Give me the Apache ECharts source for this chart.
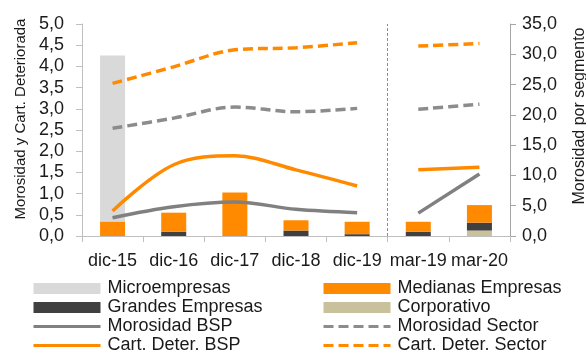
<!DOCTYPE html>
<html>
<head>
<meta charset="utf-8">
<script src="https://cdn.jsdelivr.net/npm/echarts@6/dist/echarts.min.js"></script>
<style>html,body{margin:0;padding:0;background:#fff}#c{width:586px;height:356px}</style>
</head>
<body>
<div id="c"></div>
<script>
const categories = ['dic-15','dic-16','dic-17','dic-18','dic-19','mar-19','mar-20'];
const breakIndex = 5;
const microempresas = [27.4, 0, 0, 0, 0, 0, 0];
const medianasEmpresas = [2.4, 3.15, 7.2, 1.7, 2.05, 1.65, 2.9];
const grandesEmpresas = [0, 0.7, 0, 0.9, 0.3, 0.7, 1.3];
const corporativo = [0, 0, 0, 0, 0, 0, 0.9];
const morosidadBSP = [0.43, 0.69, 0.8, 0.63, 0.55, 0.54, 1.46];
const cartDeterBSP = [0.59, 1.68, 1.89, 1.56, 1.18, 1.56, 1.62];
const morosidadSector = [2.54, 2.78, 3.04, 2.93, 3.01, 2.99, 3.11];
const cartDeterSector = [3.6, 3.99, 4.39, 4.44, 4.56, 4.48, 4.54];
const leftTicks = {min: 0, max: 5, interval: 0.5};
const rightTicks = {min: 0, max: 35, interval: 5};

const FONT = '"Liberation Sans", Arial, sans-serif';
const ORANGE = '#FF8A00';
const fmt = v => v.toFixed(1).replace('.', ',');
const pre = arr => arr.map((v, i) => i < breakIndex ? v : '-');
const post = arr => arr.map((v, i) => i >= breakIndex ? v : '-');

function bar(name, data, color) {
  return {name, type: 'bar', stack: 'seg', yAxisIndex: 1, data, barWidth: 25,
    itemStyle: {color}, emphasis: {disabled: true}, z: 1};
}
function lines(name, data, color, dashed) {
  const ls = {color, width: 3.5, type: dashed ? [10, 5] : 'solid', cap: 'butt'};
  return [pre(data), post(data)].map(d => ({
    name, type: 'line', yAxisIndex: 0, data: d, smooth: 0.35, showSymbol: false,
    symbol: 'none', connectNulls: false, lineStyle: ls, itemStyle: {color}, z: 3,
    emphasis: {disabled: true}
  }));
}
const lineLegend = name => ({name, itemStyle: {opacity: 0}});

const chart = echarts.init(document.getElementById('c'), null, {renderer: 'canvas'});
const legendText = {fontFamily: FONT, fontSize: 18, color: '#1a1a1a', lineHeight: 19,
  padding: [0, 0, 0, 2]};
const legendBase = {orient: 'vertical', top: 279, height: 80, itemWidth: 67, itemHeight: 11,
  itemGap: 0, textStyle: legendText, selectedMode: false, padding: 0,
  lineStyle: {width: 3}};
chart.setOption({
  animation: false,
  grid: {left: 82, right: 76, top: 24, bottom: 120, containLabel: false, outerBoundsMode: 'none'},
  xAxis: [{
    type: 'category', data: categories, boundaryGap: true,
    axisLine: {lineStyle: {color: '#BFBFBF', width: 1}},
    axisTick: {show: true, length: 6, lineStyle: {color: '#BFBFBF'}},
    axisLabel: {fontFamily: FONT, fontSize: 18, color: '#1a1a1a', margin: 16, interval: 0},
    splitLine: {show: false}
  }, {
    type: 'value', min: 0, max: categories.length, show: false
  }],
  yAxis: [
    {type: 'value', min: leftTicks.min, max: leftTicks.max, interval: leftTicks.interval,
      name: 'Morosidad y Cart. Deteriorada', nameLocation: 'middle', nameGap: 52,
      nameTextStyle: {fontFamily: FONT, fontSize: 15, color: '#1a1a1a', padding: [0, 0, 0, 22]},
      axisLine: {show: true, lineStyle: {color: '#BFBFBF'}},
      axisTick: {show: true, length: 6, lineStyle: {color: '#BFBFBF'}},
      axisLabel: {fontFamily: FONT, fontSize: 18, color: '#1a1a1a', margin: 18, formatter: fmt},
      splitLine: {show: false}},
    {type: 'value', min: rightTicks.min, max: rightTicks.max, interval: rightTicks.interval,
      name: 'Morosidad por segmento', nameLocation: 'middle', nameGap: 62, nameRotate: 90,
      nameTextStyle: {fontFamily: FONT, fontSize: 16, color: '#1a1a1a', padding: [0, 0, 0, 28]},
      axisLine: {show: true, lineStyle: {color: '#A6A6A6'}},
      axisTick: {show: true, length: 6, lineStyle: {color: '#A6A6A6'}},
      axisLabel: {fontFamily: FONT, fontSize: 18, color: '#1a1a1a', margin: 12, formatter: fmt},
      splitLine: {show: false}}
  ],
  legend: [
    Object.assign({}, legendBase, {left: 32,
      data: [{name: 'Microempresas', icon: 'rect'}, {name: 'Grandes Empresas', icon: 'rect'},
             lineLegend('Morosidad BSP'), lineLegend('Cart. Deter. BSP')]}),
    Object.assign({}, legendBase, {left: 322,
      data: [{name: 'Medianas Empresas', icon: 'rect'}, {name: 'Corporativo', icon: 'rect'},
             lineLegend('Morosidad Sector'), lineLegend('Cart. Deter. Sector')]})
  ],
  series: [
    bar('Corporativo', corporativo, '#C9C19B'),
    bar('Grandes Empresas', grandesEmpresas, '#404040'),
    bar('Medianas Empresas', medianasEmpresas, ORANGE),
    bar('Microempresas', microempresas, '#D9D9D9'),
    ...lines('Morosidad BSP', morosidadBSP, '#808080', false),
    ...lines('Cart. Deter. BSP', cartDeterBSP, ORANGE, false),
    ...lines('Morosidad Sector', morosidadSector, '#8C8C8C', true),
    ...lines('Cart. Deter. Sector', cartDeterSector, ORANGE, true),
    {name: 'separator', type: 'line', xAxisIndex: 1, yAxisIndex: 0, data: [], silent: true,
      markLine: {silent: true, symbol: 'none', label: {show: false},
        lineStyle: {color: '#8C8C8C', type: [3, 2], width: 1},
        emphasis: {disabled: true},
        data: [{xAxis: breakIndex}]}}
  ]
});
</script>
</body>
</html>
